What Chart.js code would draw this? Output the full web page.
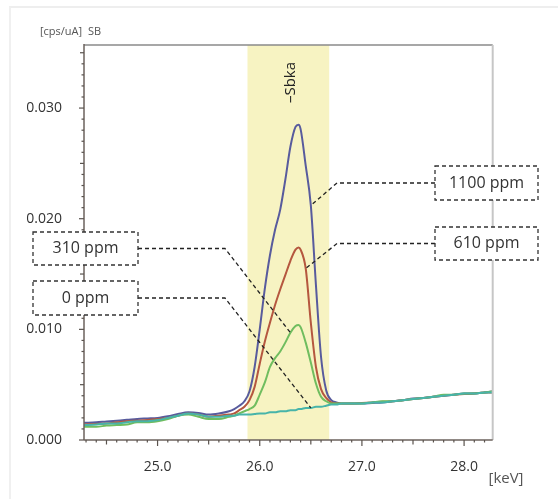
<!DOCTYPE html>
<html><head><meta charset="utf-8">
<script src="https://cdn.jsdelivr.net/npm/chart.js@4.4.1/dist/chart.umd.min.js"></script>
<style>
html,body{margin:0;padding:0;background:#fff;}
#wrap{position:relative;width:558px;height:499px;overflow:hidden;}
#card{position:absolute;left:9px;top:6px;right:-4px;bottom:-4px;border-top:2px solid #eeeeee;border-left:2px solid #f0f0f0;}
canvas{position:absolute;left:0;top:0;}
</style></head><body>
<div id="wrap"><div id="card"></div><canvas id="c" width="558" height="499"></canvas></div>
<script>
// ---- data ----
const energy = [24.28,24.4,24.5,24.6,24.7,24.8,24.9,25.0,25.1,25.2,25.3,25.4,25.5,25.6,25.7,25.75,25.8,25.85,25.9,25.95,
  26.0,26.05,26.1,26.15,26.2,26.25,26.3,26.35,26.38,26.4,26.45,26.5,26.55,26.6,26.65,26.7,26.75,26.8,26.9,
  27.0,27.1,27.2,27.3,27.4,27.5,27.6,27.7,27.8,27.9,28.0,28.1,28.2,28.28];
const ppm1100 = [0.00155,0.0016,0.00168,0.00175,0.00182,0.0019,0.00195,0.0020,0.00215,0.00235,0.0025,0.00245,0.0023,0.0024,0.0026,0.0028,0.0031,0.0035,0.0044,0.0066,
  0.0100,0.0137,0.0167,0.0190,0.0208,0.0235,0.0265,0.0283,0.0285,0.0281,0.0248,0.0212,0.0140,0.0075,0.0045,0.0036,0.0034,0.0033,0.0033,
  0.0033,0.00335,0.0034,0.0035,0.0036,0.00375,0.0038,0.0039,0.0040,0.0041,0.0042,0.0042,0.0043,0.0044];
const ppm610 = [0.0014,0.00145,0.0015,0.0016,0.0017,0.00175,0.0018,0.0019,0.0020,0.0022,0.0024,0.0023,0.0021,0.0022,0.0023,0.0024,0.0027,0.0030,0.0036,0.0048,
  0.0069,0.0089,0.0106,0.0122,0.0136,0.0149,0.0162,0.0172,0.0174,0.0172,0.0155,0.0106,0.0066,0.0046,0.0038,0.0034,0.0033,0.0033,0.0033,
  0.00335,0.0034,0.00345,0.0035,0.0036,0.0037,0.0038,0.0039,0.0040,0.0041,0.00415,0.0042,0.0043,0.0043];
const ppm310 = [0.0012,0.0012,0.0013,0.00135,0.0014,0.0016,0.0016,0.0017,0.0019,0.0022,0.0023,0.0021,0.0019,0.0019,0.0021,0.0022,0.0024,0.0026,0.0028,0.0031,
  0.0041,0.0052,0.0066,0.0074,0.0080,0.0088,0.0097,0.0103,0.0104,0.0102,0.0088,0.0070,0.0051,0.0039,0.0035,0.0033,0.0033,0.0033,0.0033,
  0.0033,0.0034,0.0035,0.0035,0.0036,0.0037,0.0038,0.0039,0.0041,0.0041,0.0042,0.0042,0.0043,0.0044];
const ppm0 = [0.00135,0.0014,0.0015,0.0015,0.0016,0.0017,0.0017,0.0018,0.0020,0.0022,0.0024,0.0023,0.0021,0.0021,0.0022,0.0022,0.0023,0.0023,0.0023,0.00235,
  0.0024,0.0024,0.0025,0.0025,0.0026,0.0026,0.0027,0.0027,0.0028,0.0028,0.0029,0.0029,0.0030,0.0030,0.0031,0.0032,0.0032,0.0033,0.0033,
  0.0033,0.0034,0.0034,0.0035,0.0036,0.0037,0.0038,0.0039,0.0040,0.0041,0.0042,0.0042,0.0043,0.0043];
const seriesNames = ['1100 ppm','610 ppm','310 ppm','0 ppm'];
const seriesValues = [ppm1100, ppm610, ppm310, ppm0];
const xTickValues = [25.0, 26.0, 27.0, 28.0];
const yTickValues = [0.000, 0.010, 0.020, 0.030];
const xRange = [24.28, 28.28];
const yRange = [0, 0.0357];
const bandRange = [25.88, 26.68];
const peakName = '\u2013Sbka';
const peakEnergy = 26.3;
const yAxisTitle = '[cps/uA]  SB';
const xAxisTitle = '[keV]';
const calloutEnergy = [26.5, 26.45, 26.3, 26.5];

// ---- styles / layout ----
const seriesColors = ['#585b9d','#b5573f','#70bd5f','#47b4a9'];
const FONT = "'Open Sans', 'Noto Sans', sans-serif";
const calloutBoxes = [
  {x:435, y:166, w:103, h:34, side:'right', elbowX:337},
  {x:435, y:227, w:103, h:33, side:'right', elbowX:337},
  {x:33,  y:232, w:105, h:33, side:'left',  elbowX:225},
  {x:33,  y:281, w:105, h:34, side:'left',  elbowX:225}
];

const datasets = seriesValues.map((vals, i) => ({
  label: seriesNames[i],
  data: energy.map((e, j) => ({x: e, y: vals[j]})),
  borderColor: seriesColors[i],
  borderWidth: 2,
  pointRadius: 0,
  fill: false,
  cubicInterpolationMode: 'monotone',
  order: 3 - i
}));

const decor = {
  id: 'decor',
  beforeDatasetsDraw(chart) {
    const {ctx, chartArea: a, scales: {x}} = chart;
    ctx.save();
    ctx.fillStyle = '#f7f3c2';
    const x0 = x.getPixelForValue(bandRange[0]), x1 = x.getPixelForValue(bandRange[1]);
    ctx.fillRect(x0, a.top, x1 - x0, a.bottom - a.top);
    ctx.restore();
  },
  afterDatasetsDraw(chart) {
    const {ctx, chartArea: a, scales: {x, y}} = chart;
    ctx.save();
    // frame
    const line = (x1, y1, x2, y2, c, w) => { ctx.beginPath(); ctx.strokeStyle = c; ctx.lineWidth = w; ctx.moveTo(x1, y1); ctx.lineTo(x2, y2); ctx.stroke(); };
    line(a.left, a.top, a.right, a.top, '#8a8a8a', 1.5);
    line(a.right, a.top, a.right, a.bottom, '#c6c6c6', 2);
    line(a.left, a.top - 1, a.left, a.bottom, '#6b625c', 1.5);
    line(a.left, a.bottom, a.right, a.bottom, '#6b625c', 1.5);
    // y ticks every 0.001
    for (let i = 0; i <= Math.floor(yRange[1] * 1000); i++) {
      const py = y.getPixelForValue(i / 1000);
      const len = i % 10 === 0 ? 5 : (i % 5 === 0 ? 4 : 2.5);
      line(a.left - len, py, a.left, py, '#5a534e', 1.2);
    }
    // x ticks every 0.1
    for (let i = Math.ceil(xRange[0] * 10); i <= Math.floor(xRange[1] * 10); i++) {
      const px = x.getPixelForValue(i / 10);
      const len = i % 10 === 0 ? 6 : (i % 5 === 0 ? 4.5 : 2.5);
      line(px, a.bottom, px, a.bottom + len, '#5a534e', 1.2);
    }
    // peak label
    ctx.save();
    ctx.translate(x.getPixelForValue(peakEnergy), a.top + 37.5);
    ctx.rotate(-Math.PI / 2);
    ctx.fillStyle = '#222';
    ctx.font = '15px ' + FONT;
    ctx.textAlign = 'center';
    ctx.textBaseline = 'middle';
    ctx.fillText(peakName, 0, 0);
    ctx.restore();
    // callouts
    calloutBoxes.forEach((b, i) => {
      const idx = energy.indexOf(calloutEnergy[i]);
      const tx = x.getPixelForValue(energy[idx]);
      const ty = y.getPixelForValue(seriesValues[i][idx]);
      const cy = b.y + b.h / 2;
      const sx = b.side === 'right' ? b.x : b.x + b.w;
      ctx.setLineDash([4, 3]);
      ctx.strokeStyle = '#222';
      ctx.lineWidth = 1.3;
      ctx.beginPath();
      ctx.moveTo(sx, cy); ctx.lineTo(b.elbowX, cy); ctx.lineTo(tx, ty);
      ctx.stroke();
      ctx.fillStyle = '#fff';
      ctx.fillRect(b.x, b.y, b.w, b.h);
      ctx.strokeStyle = '#333';
      ctx.strokeRect(b.x, b.y, b.w, b.h);
      ctx.setLineDash([]);
      ctx.fillStyle = '#333';
      ctx.font = '16px ' + FONT;
      ctx.textAlign = 'center';
      ctx.textBaseline = 'middle';
      ctx.fillText(seriesNames[i], b.x + b.w / 2, cy);
    });
    // axis titles
    ctx.fillStyle = '#555';
    ctx.font = '11px ' + FONT;
    ctx.textAlign = 'left';
    ctx.textBaseline = 'middle';
    ctx.fillText(yAxisTitle, 40, 32);
    ctx.font = '15px ' + FONT;
    ctx.textAlign = 'center';
    ctx.fillText(xAxisTitle, 506, 479);
    ctx.restore();
  }
};

new Chart(document.getElementById('c'), {
  type: 'line',
  data: {datasets},
  options: {
    responsive: false,
    animation: false,
    devicePixelRatio: 1,
    layout: {padding: {top: 45, right: 65.3, left: 0, bottom: 0}},
    plugins: {legend: {display: false}, tooltip: {enabled: false}},
    scales: {
      x: {
        type: 'linear', min: xRange[0], max: xRange[1],
        grid: {display: false}, border: {display: false},
        afterBuildTicks: s => { s.ticks = xTickValues.map(v => ({value: v})); },
        afterFit: s => { s.height = 59; },
        ticks: {padding: 11, color: '#333', font: {family: FONT, size: 14}, maxRotation: 0,
          callback: v => Number(v).toFixed(1)}
      },
      y: {
        type: 'linear', min: yRange[0], max: yRange[1],
        grid: {display: false}, border: {display: false},
        afterBuildTicks: s => { s.ticks = yTickValues.map(v => ({value: v})); },
        afterFit: s => { s.width = 84; },
        ticks: {padding: 14, color: '#333', font: {family: FONT, size: 14},
          callback: v => Number(v).toFixed(3)}
      }
    }
  },
  plugins: [decor]
});
</script></body></html>
